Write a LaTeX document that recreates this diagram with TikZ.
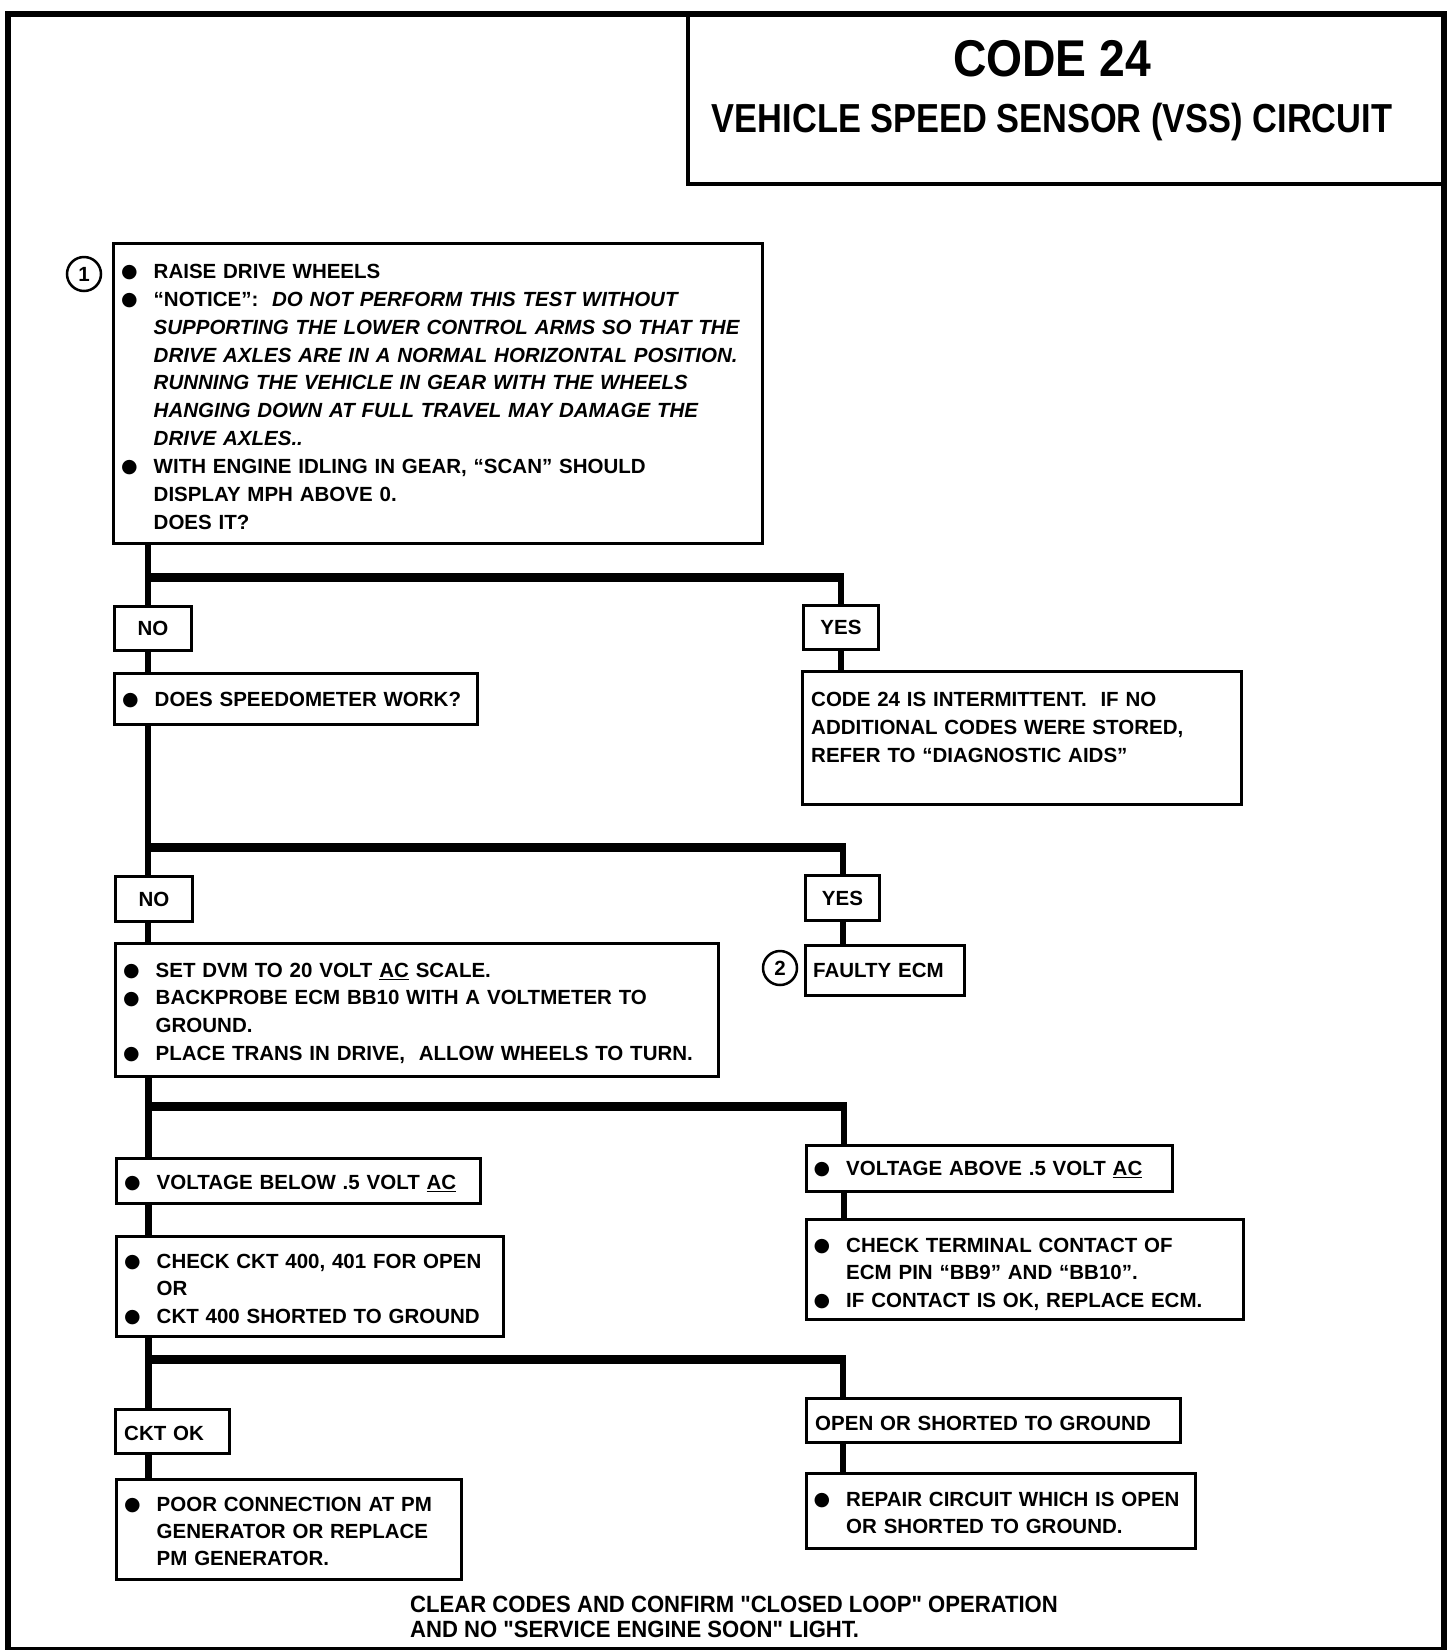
\documentclass[tikz,border=0pt]{standalone}
\usepackage{fontspec}
\setmainfont{Liberation Sans}
\newfontfamily\dejavu{DejaVu Sans}
\newfontfamily\footfont[Ligatures=TeXOff]{Liberation Sans}
\usepackage{graphicx}
\newcommand{\bdfont}[1][27.7]{\bfseries\fontsize{20.5}{#1}\selectfont}
\newcommand{\bul}{\makebox[28.5pt][l]{\hspace*{-4pt}\raisebox{0.8pt}{\dejavu\fontsize{19}{19}\selectfont ●}}}
\newcommand{\ind}{\hspace*{28.5pt}}
\newcommand{\fst}{\rule{0pt}{15pt}}
\tikzset{
  box/.style={draw, line width=3pt, inner sep=0pt, anchor=north west},
  txt/.style={inner sep=0pt, anchor=north west, align=left, text width=700pt},
  lab/.style={inner sep=0pt, font=\bdfont},
  trunk/.style={line width=6.5pt},
  bar/.style={line width=8.5pt},
  num/.style={draw, circle, line width=2.5pt, minimum size=34pt, inner sep=0pt, font=\bdfont},
}
\begin{document}
\begin{tikzpicture}[x=1pt,y=-1pt]
\useasboundingbox (0,0) rectangle (1456,1650);
% frame and title
\node[draw, line width=6pt, inner sep=0pt, minimum width=1436.5pt, minimum height=1636pt, anchor=north west] (frame) at (4.5,11) {};
\node[draw, line width=4pt, inner sep=0pt, minimum width=755pt, minimum height=171pt, anchor=north west] (tbox) at (686,11) {};
\node[anchor=base, inner sep=0pt] (code) at (1052,76) {\bfseries\fontsize{51.7}{60}\selectfont\scalebox{0.895}[1]{CODE 24}};
\node[anchor=base, inner sep=0pt] (vss) at (1052,132) {\bfseries\fontsize{40.5}{48}\selectfont\scalebox{0.849}[1]{VEHICLE SPEED SENSOR (VSS) CIRCUIT}};

% boxes
\node[box, minimum width=649pt, minimum height=300pt] (b1) at (112,242) {};
\node[box, minimum width=77pt, minimum height=44pt] (no1) at (113,605) {};
\node[box, minimum width=75pt, minimum height=44pt] (yes1) at (802,604) {};
\node[box, minimum width=363pt, minimum height=51pt] (spd) at (113,672) {};
\node[box, minimum width=439pt, minimum height=133pt] (int) at (801,670) {};
\node[box, minimum width=77pt, minimum height=45pt] (no2) at (114,875) {};
\node[box, minimum width=74pt, minimum height=45pt] (yes2) at (804,874) {};
\node[box, minimum width=603pt, minimum height=133pt] (dvm) at (114,942) {};
\node[box, minimum width=159pt, minimum height=50pt] (ecm) at (804,944) {};
\node[box, minimum width=364pt, minimum height=45pt] (vbel) at (115,1157) {};
\node[box, minimum width=366pt, minimum height=46pt] (vabv) at (805,1144) {};
\node[box, minimum width=437pt, minimum height=100pt] (term) at (805,1218) {};
\node[box, minimum width=387pt, minimum height=100pt] (ckt) at (115,1235) {};
\node[box, minimum width=114pt, minimum height=44pt] (cktok) at (114,1408) {};
\node[box, minimum width=345pt, minimum height=100pt] (poor) at (115,1478) {};
\node[box, minimum width=374pt, minimum height=44pt] (opn) at (805,1397) {};
\node[box, minimum width=389pt, minimum height=75pt] (rep) at (805,1472) {};

% circled numbers
\node[num] (c1) at (84,274) {1};
\node[num] (c2) at (780,968) {2};

% labels in small boxes
\node[lab] (tno1) at (no1.center) {NO};
\node[lab] (tyes1) at (yes1.center) {YES};
\node[lab] (tno2) at (no2.center) {NO};
\node[lab] (tyes2) at (yes2.center) {YES};

% texts
\node[txt, font={\bdfont[27.87]}] (t1) at (125,263.3) {\fst\bul RAISE DRIVE WHEELS\\
\bul “NOTICE”:\ \ \textit{DO NOT PERFORM THIS TEST WITHOUT}\\
\ind\textit{SUPPORTING THE LOWER CONTROL ARMS SO THAT THE}\\
\ind\textit{DRIVE AXLES ARE IN A NORMAL HORIZONTAL POSITION.}\\
\ind\textit{RUNNING THE VEHICLE IN GEAR WITH THE WHEELS}\\
\ind\textit{HANGING DOWN AT FULL TRAVEL MAY DAMAGE THE}\\
\ind\textit{DRIVE AXLES..}\\
\bul WITH ENGINE IDLING IN GEAR, “SCAN” SHOULD\\
\ind DISPLAY MPH ABOVE 0.\\
\ind DOES IT?};
\node[txt, font=\bdfont] (tspd) at (126,691.2) {\fst\bul DOES SPEEDOMETER WORK?};
\node[txt, font={\bdfont[27.9]}] (tint) at (811,691.2) {\fst CODE 24 IS INTERMITTENT.\ \ IF NO\\
ADDITIONAL CODES WERE STORED,\\
REFER TO “DIAGNOSTIC AIDS”};
\node[txt, font={\bdfont[27.7]}] (tdvm) at (127,962) {\fst\bul SET DVM TO 20 VOLT \underline{AC} SCALE.\\
\bul BACKPROBE ECM BB10 WITH A VOLTMETER TO\\
\ind GROUND.\\
\bul PLACE TRANS IN DRIVE,\ \ ALLOW WHEELS TO TURN.};
\node[txt, font=\bdfont] (tecm) at (813,962.1) {\fst FAULTY ECM};
\node[txt, font=\bdfont] (tvbel) at (128,1174) {\fst\bul VOLTAGE BELOW .5 VOLT \underline{AC}};
\node[txt, font=\bdfont] (tvabv) at (817.5,1160.2) {\fst\bul VOLTAGE ABOVE .5 VOLT \underline{AC}};
\node[txt, font={\bdfont[27.4]}] (tterm) at (817.5,1237.2) {\fst\bul CHECK TERMINAL CONTACT OF\\
\ind ECM PIN “BB9” AND “BB10”.\\
\bul IF CONTACT IS OK, REPLACE ECM.};
\node[txt, font={\bdfont[27.4]}] (tckt) at (128,1253) {\fst\bul CHECK CKT 400, 401 FOR OPEN\\
\ind OR\\
\bul CKT 400 SHORTED TO GROUND};
\node[txt, font=\bdfont] (tcktok) at (124,1424.8) {\fst CKT OK};
\node[txt, font={\bdfont[26.9]}] (tpoor) at (128,1496.4) {\fst\bul POOR CONNECTION AT PM\\
\ind GENERATOR OR REPLACE\\
\ind PM GENERATOR.};
\node[txt, font=\bdfont] (topn) at (815,1415.3) {\fst OPEN OR SHORTED TO GROUND};
\node[txt, font={\bdfont[27]}] (trep) at (817.5,1491.2) {\fst\bul REPAIR CIRCUIT WHICH IS OPEN\\
\ind OR SHORTED TO GROUND.};

% footer
\node[anchor=base west, inner sep=0pt] (f1) at (410,1612.5) {\footfont\bfseries\fontsize{23.5}{28}\selectfont\scalebox{0.94}[1]{CLEAR CODES AND CONFIRM "CLOSED LOOP" OPERATION}};
\node[anchor=base west, inner sep=0pt] (f2) at (410,1637) {\footfont\bfseries\fontsize{23.5}{28}\selectfont\scalebox{0.94}[1]{AND NO "SERVICE ENGINE SOON" LIGHT.}};

% junctions
\coordinate (j1) at (148,577.6); \coordinate (j1r) at (841,577.6);
\coordinate (j2) at (148,847.4); \coordinate (j2r) at (843,847.4);
\coordinate (j3) at (148.5,1106.7); \coordinate (j3r) at (844,1106.7);
\coordinate (j4) at (148.5,1359.7); \coordinate (j4r) at (843,1359.7);

% left trunk
\draw[trunk] (b1.south -| j1) -- (no1.north -| j1);
\draw[trunk] (no1.south -| j1) -- (spd.north -| j1);
\draw[trunk] (spd.south -| j2) -- (no2.north -| j2);
\draw[trunk] (no2.south -| j2) -- (dvm.north -| j2);
\draw[trunk] (dvm.south -| j3) -- (vbel.north -| j3);
\draw[trunk] (vbel.south -| j3) -- (ckt.north -| j3);
\draw[trunk] (ckt.south -| j4) -- (cktok.north -| j4);
\draw[trunk] (cktok.south -| j4) -- (poor.north -| j4);
% bars
\draw[bar] (j1) -- ([xshift=3.25pt]j1r);
\draw[bar] (j2) -- ([xshift=3.25pt]j2r);
\draw[bar] (j3) -- ([xshift=3.25pt]j3r);
\draw[bar] (j4) -- ([xshift=3.25pt]j4r);
% right branches
\draw[trunk] (j1r) -- (yes1.north -| j1r);
\draw[trunk] (yes1.south -| j1r) -- (int.north -| j1r);
\draw[trunk] (j2r) -- (yes2.north -| j2r);
\draw[trunk] (yes2.south -| j2r) -- (ecm.north -| j2r);
\draw[trunk] (j3r) -- (vabv.north -| j3r);
\draw[trunk] (vabv.south -| j3r) -- (term.north -| j3r);
\draw[trunk] (j4r) -- (opn.north -| j4r);
\draw[trunk] (opn.south -| j4r) -- (rep.north -| j4r);
\end{tikzpicture}
\end{document}
